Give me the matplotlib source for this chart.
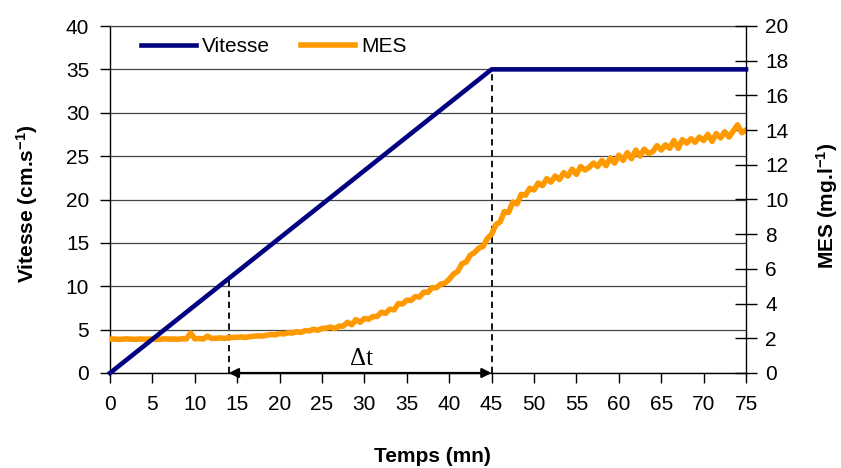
import matplotlib
matplotlib.use('Agg')
import matplotlib.pyplot as plt
import numpy as np

plt.rcParams['font.family'] = ['Liberation Sans', 'DejaVu Sans']
plt.rcParams['mathtext.fontset'] = 'custom'
plt.rcParams['mathtext.rm'] = 'Liberation Sans'
plt.rcParams['mathtext.default'] = 'regular'

# ---- data ----
vit_time = [0, 45, 75]
vit_values = [0, 35, 35]

mes_values = [
    1.95, 1.96, 1.94, 1.95, 1.97, 1.95, 1.94, 1.96, 1.95, 1.95,
    1.96, 1.94, 1.95, 1.97, 1.95, 1.96, 1.94, 1.98, 1.96, 2.30,
    1.97, 1.99, 1.96, 2.12, 1.99, 2.00, 2.02, 1.99, 2.04, 2.05,
    2.06, 2.08, 2.05, 2.10, 2.12, 2.14, 2.13, 2.18, 2.22, 2.20,
    2.28, 2.25, 2.32, 2.30, 2.38, 2.34, 2.44, 2.43, 2.52, 2.46,
    2.57, 2.58, 2.65, 2.56, 2.70, 2.70, 2.92, 2.78, 3.08, 2.92,
    3.14, 3.10, 3.25, 3.26, 3.50, 3.44, 3.68, 3.64, 4.00, 3.98,
    4.20, 4.18, 4.40, 4.38, 4.66, 4.65, 4.92, 4.92, 5.12, 5.18,
    5.40, 5.70, 5.85, 6.30, 6.40, 6.80, 6.95, 7.20, 7.30, 7.75,
    8.00, 8.55, 8.70, 9.30, 9.25, 9.85, 9.75, 10.30, 10.25, 10.65,
    10.55, 10.95, 10.80, 11.20, 11.00, 11.35, 11.15, 11.55, 11.35, 11.75,
    11.45, 11.90, 11.70, 11.85, 12.10, 11.90, 12.25, 11.95, 12.40, 12.10,
    12.55, 12.25, 12.70, 12.35, 12.85, 12.50, 12.90, 12.65, 12.75, 13.10,
    12.85, 13.15, 12.95, 13.40, 12.95, 13.45, 13.25, 13.50, 13.30, 13.60,
    13.40, 13.75, 13.35, 13.80, 13.55, 13.90, 13.60, 13.95, 14.30, 13.85,
    14.00,
]
mes_time = np.linspace(0, 75, len(mes_values))

marker_times = [14, 45]
dt_label = '\u0394t'

x_ticks = list(range(0, 80, 5))
left_ticks = list(range(0, 45, 5))
right_ticks = list(range(0, 22, 2))

NAVY = '#000080'
ORANGE = '#FF9900'

fig = plt.figure(figsize=(8.41, 4.68), dpi=100)
ax1 = fig.add_axes([110/841, 95/468, 636/841, 347/468])
ax2 = ax1.twinx()

ax1.set_xlim(0, 75)
ax1.set_ylim(0, 40)
ax2.set_ylim(0, 20)
ax1.set_xticks(x_ticks)
ax1.set_yticks(left_ticks)
ax2.set_yticks(right_ticks)

ax1.grid(axis='y', color='#444444', lw=0.9)
ax1.set_axisbelow(True)

ax1.spines['top'].set_color('#444444')
ax1.spines['top'].set_linewidth(0.9)
ax1.spines['right'].set_visible(False)
for s in ['left', 'bottom']:
    ax1.spines[s].set_color('black')
    ax1.spines[s].set_linewidth(1.0)
for s in ['left', 'top', 'bottom']:
    ax2.spines[s].set_visible(False)
ax2.spines['right'].set_color('black')
ax2.spines['right'].set_linewidth(1.0)

ax1.tick_params(axis='y', direction='out', length=7, pad=8, labelsize=15, width=1)
ax1.tick_params(axis='x', direction='out', length=7, pad=9, labelsize=15, width=1)
ax2.tick_params(axis='y', direction='inout', length=16, pad=6, labelsize=15, width=1)

# dashed markers
vit_at = np.interp(marker_times, vit_time, vit_values)
for tm, vm in zip(marker_times, vit_at):
    ax1.plot([tm, tm], [0, vm], color='black', lw=1.3, ls=(0, (3.5, 2.5)), zorder=2)

# arrow
ax1.annotate('', xy=(marker_times[1], 0), xytext=(marker_times[0], 0),
             arrowprops=dict(arrowstyle='<|-|>', color='black', lw=1.6,
                             shrinkA=0, shrinkB=0, mutation_scale=14),
             zorder=4)
ax1.text((marker_times[0] + marker_times[1]) / 2 + 0.2, 1.6, dt_label,
         fontfamily=['Liberation Serif', 'DejaVu Serif'], fontsize=18,
         ha='center', va='center')

l_mes, = ax2.plot(mes_time, mes_values, color=ORANGE, lw=4.0, zorder=2,
                  solid_joinstyle='round', label='MES')
l_vit, = ax2.plot(vit_time, vit_values, color=NAVY, lw=3.3, zorder=3,
                  transform=ax1.transData, label='Vitesse', clip_on=False)

fig.legend([l_vit, l_mes], ['Vitesse', 'MES'], loc='center left',
           bbox_to_anchor=(131/841, 1 - 47/468), ncol=2, frameon=False,
           borderpad=0, handlelength=2.6, handletextpad=0.3,
           columnspacing=1.5, fontsize=15)

fig.text(27/841, 1 - 204/468, 'Vitesse (cm.s$^{-1}$)', rotation=90,
         ha='center', va='center', fontsize=15, fontweight='bold')
fig.text(827/841, 1 - 206/468, 'MES (mg.l$^{-1}$)', rotation=90,
         ha='center', va='center', fontsize=15, fontweight='bold')
fig.text(432/841, 1 - 456/468, 'Temps (mn)',
         ha='center', va='center', fontsize=15, fontweight='bold')

fig.savefig('out.png', dpi=100)
